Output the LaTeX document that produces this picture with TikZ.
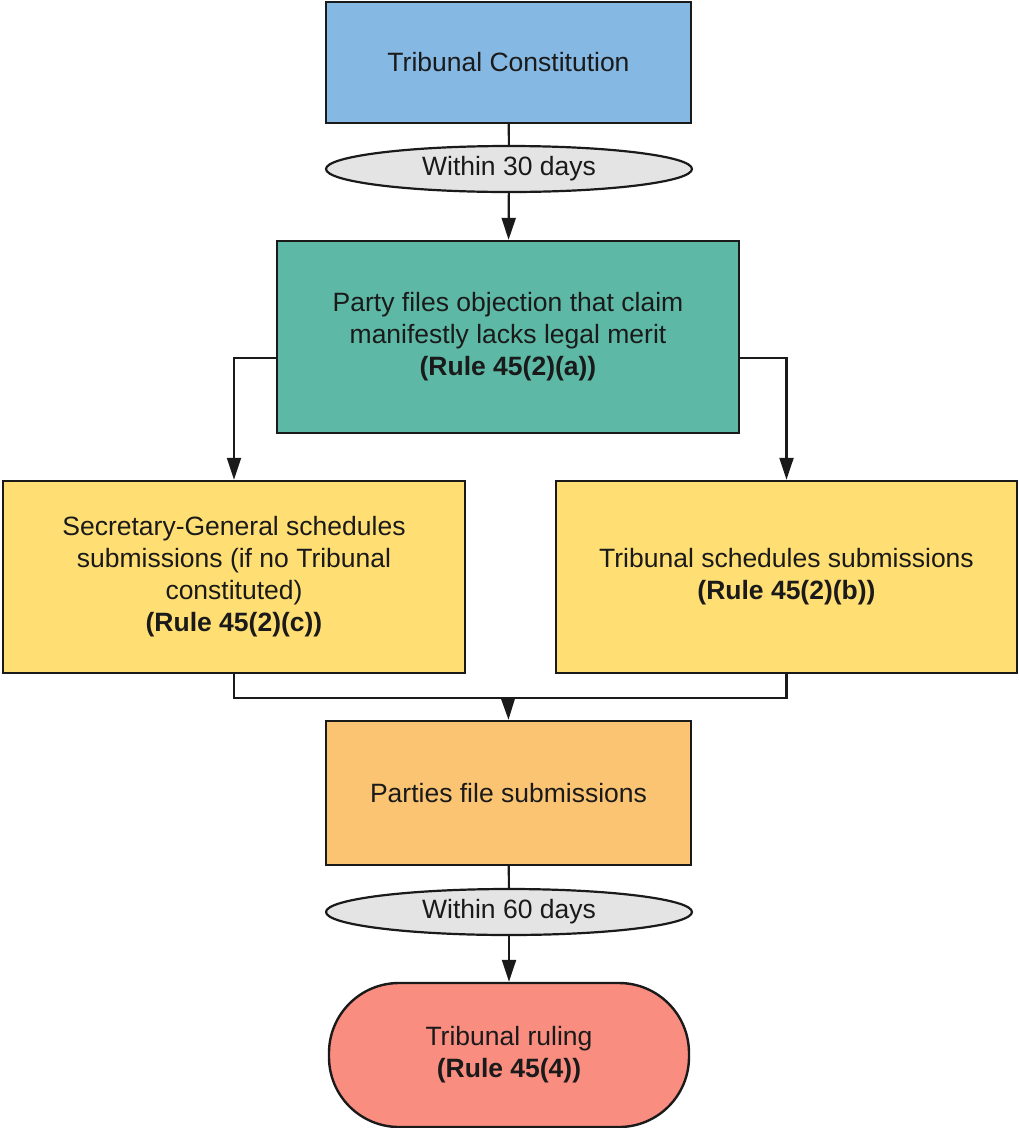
\documentclass[tikz,border=0pt]{standalone}
\usepackage{fontspec}
\setmainfont{Liberation Sans}
\usetikzlibrary{shapes.geometric,arrows.meta}
\definecolor{cBlue}{HTML}{85B8E3}
\definecolor{cGreen}{HTML}{5DB9A6}
\definecolor{cYellow}{HTML}{FFDF73}
\definecolor{cOrange}{HTML}{FBC472}
\definecolor{cRed}{HTML}{F98E80}
\definecolor{cGray}{HTML}{E4E4E4}
\definecolor{cInk}{HTML}{1A1A1A}
\begin{document}
\begin{tikzpicture}[x=1pt,y=-1pt,
  every node/.style={text=cInk, font=\fontsize{26.5}{32}\selectfont, align=center},
  stepbox/.style={draw=cInk, line width=2.4pt, rectangle, inner sep=0pt},
  timing/.style={draw=cInk, line width=2.2pt, ellipse, fill=cGray, inner sep=0pt,
    minimum width=366pt, minimum height=46pt},
  endbox/.style={draw=cInk, line width=2.4pt, rectangle, rounded corners=70pt,
    inner sep=0pt, fill=cRed},
  link/.style={draw=cInk, line width=2.2pt},
  arr/.style={link, -{Triangle[length=22pt,width=14pt]}}]
\useasboundingbox (0,0) rectangle (1019,1128);
\fill[white] (0,0) rectangle (1019,1128);

% boxes of the procedure
\node[stepbox, fill=cBlue, minimum width=365pt, minimum height=121pt]
  (const) at (508.5,62.5) {Tribunal Constitution};
\node[timing] (t30) at (509,169) {Within 30 days};
\node[stepbox, fill=cGreen, minimum width=462pt, minimum height=192pt]
  (obj) at (508,337) {Party files objection that claim\\manifestly lacks legal merit\\\textbf{(Rule 45(2)(a))}};
\node[stepbox, fill=cYellow, minimum width=462pt, minimum height=192pt]
  (sg) at (234,577) {Secretary-General schedules\\submissions (if no Tribunal\\constituted)\\\textbf{(Rule 45(2)(c))}};
\node[stepbox, fill=cYellow, minimum width=461pt, minimum height=192pt]
  (tb) at (786.5,577) {Tribunal schedules submissions\\\textbf{(Rule 45(2)(b))}};
\node[stepbox, fill=cOrange, minimum width=365pt, minimum height=144pt]
  (sub) at (508.5,793) {Parties file submissions};
\node[timing] (t60) at (509,912) {Within 60 days};
\node[endbox, minimum width=360pt, minimum height=144pt]
  (rul) at (509,1055) {Tribunal ruling\\\textbf{(Rule 45(4))}};

% connectors
\coordinate (merge) at (508,698);
\draw[link] (const) -- (t30);
\draw[arr] (t30) -- (obj);
\draw[arr] ([yshift=-21pt]obj.west) -| (sg.north);
\draw[arr] ([yshift=-21pt]obj.east) -| (tb.north);
\draw[link] (sg.south) |- (merge) -| (tb.south);
\draw[arr] (merge) -- (sub.north);
\draw[link] (sub) -- (t60);
\draw[arr] (t60) -- (rul);
\end{tikzpicture}
\end{document}
